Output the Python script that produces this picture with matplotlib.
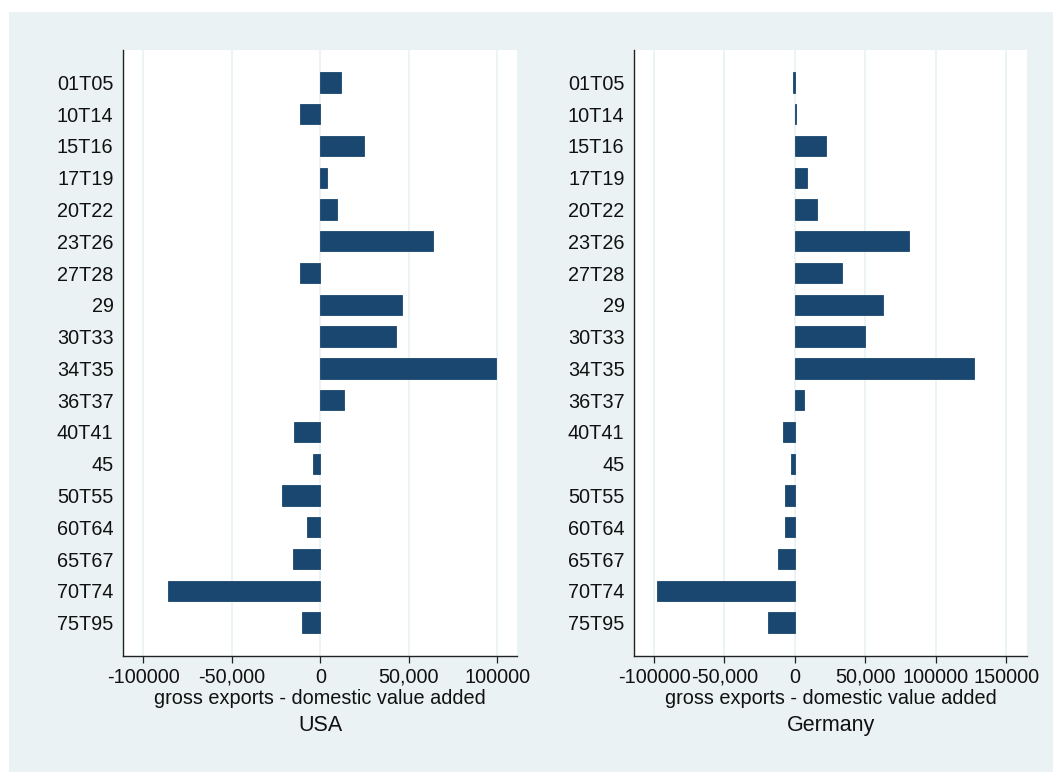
import matplotlib.pyplot as plt
from matplotlib.patches import Rectangle
from matplotlib.ticker import FixedLocator

plt.rcParams['font.family'] = ['Liberation Sans', 'DejaVu Sans']

sectors = ['01T05', '10T14', '15T16', '17T19', '20T22', '23T26', '27T28', '29',
           '30T33', '34T35', '36T37', '40T41', '45', '50T55', '60T64', '65T67',
           '70T74', '75T95']

# gross exports minus domestic value added, by sector
usa = [11500, -11700, 24900, 4000, 9700, 63500, -11500, 46500,
       42600, 99400, 13600, -14700, -4000, -21600, -7500, -15500,
       -85900, -10300]
germany = [-1200, 800, 22300, 8400, 15600, 80700, 33200, 62500,
           49500, 127100, 6300, -8200, -2900, -7000, -7200, -11800,
           -98200, -19200]

usa_ticks = [-100000, -50000, 0, 50000, 100000]
usa_ticklabels = ['-100000', '-50,000', '0', '50,000', '100000']
ger_ticks = [-100000, -50000, 0, 50000, 100000, 150000]
ger_ticklabels = ['-100000', '-50,000', '0', '50,000', '100000', '150000']

BAR = '#1a476f'
BG = '#eaf2f3'
INK = '#111111'

fig = plt.figure(figsize=(10.53, 7.72), dpi=100)
fig.patch.set_facecolor('white')
fig.patches.append(Rectangle((9 / 1053, 0), 1 - 9 / 1053, 1 - 12 / 772,
                             transform=fig.transFigure, facecolor=BG,
                             edgecolor='none', zorder=-10))

panels = [
    ('USA', usa, usa_ticks, usa_ticklabels, (-111400, 111400), 0.1171, 0.3741),
    ('Germany', germany, ger_ticks, ger_ticklabels, (-114000, 164800), 0.6024, 0.3729),
]

for name, vals, ticks, ticklabels, xlim, left, width in panels:
    ax = fig.add_axes([left, 0.1503, width, 0.7854])
    ax.set_facecolor('white')
    pos = list(range(len(sectors)))
    ax.barh(pos, vals, height=0.64, color=BAR, edgecolor=BAR, linewidth=0.6, zorder=3)

    ax.set_xlim(*xlim)
    ax.set_ylim(len(sectors) - 1 + 1.05, -1.03)
    ax.xaxis.set_major_locator(FixedLocator(ticks))
    ax.set_xticklabels(ticklabels)
    ax.set_yticks(pos)
    ax.set_yticklabels(sectors)

    ax.grid(axis='x', color=BG, linewidth=1.3, zorder=1)
    ax.set_axisbelow(True)
    for side in ['top', 'right']:
        ax.spines[side].set_visible(False)
    for side in ['left', 'bottom']:
        ax.spines[side].set_color('#222222')
        ax.spines[side].set_linewidth(1.0)

    ax.tick_params(axis='x', length=5, width=0.9, color='#222222', pad=3.5,
                   labelsize=14.3, labelcolor=INK)
    ax.tick_params(axis='y', length=0, pad=7, labelsize=14.3, labelcolor=INK)

    ax.set_xlabel('gross exports - domestic value added', fontsize=14.3,
                  color=INK, labelpad=1.8)
    ax.text(0.5, -0.114, name, transform=ax.transAxes, ha='center', va='center',
            fontsize=15.5, color=INK)

fig.savefig('out.png', dpi=100, facecolor=fig.get_facecolor())
